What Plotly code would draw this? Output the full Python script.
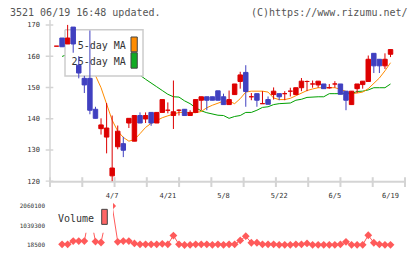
import plotly.graph_objects as go

# ---------------- data ----------------
dates = ["3/24", "3/25", "3/26", "3/27", "3/28", "3/31", "4/1", "4/2", "4/3", "4/4",
         "4/7", "4/8", "4/9", "4/10", "4/11", "4/14", "4/15", "4/16", "4/17", "4/18",
         "4/21", "4/22", "4/23", "4/24", "4/25", "4/28", "4/30", "5/1", "5/2", "5/7",
         "5/8", "5/9", "5/12", "5/13", "5/14", "5/15", "5/16", "5/19", "5/20", "5/21",
         "5/22", "5/23", "5/26", "5/27", "5/28", "5/29", "5/30", "6/2", "6/3", "6/4",
         "6/5", "6/6", "6/9", "6/10", "6/11", "6/12", "6/13", "6/16", "6/17", "6/18", "6/19"]

opens = [163.2, 165.8, 163.9, 169.3, 157.1, 152.9, 152.9, 143.0, 136.8, 134.1,
         121.7, 131.0, 132.0, 138.6, 132.8, 141.0, 139.9, 142.0, 138.6, 142.0,
         142.7, 141.0, 142.7, 143.0, 141.0, 142.0, 145.9, 147.0, 147.0, 148.9,
         147.0, 144.5, 147.7, 151.9, 154.8, 147.0, 148.0, 144.8, 146.1, 147.7,
         148.0, 148.0, 148.8, 147.7, 149.9, 151.9, 151.1, 150.8, 151.1, 149.9,
         151.1, 151.1, 148.8, 144.5, 149.6, 150.9, 151.9, 160.9, 159.0, 156.9, 160.6]

closes = [163.2, 163.0, 165.8, 163.9, 154.6, 150.8, 142.7, 140.1, 138.0, 137.0,
          124.2, 136.0, 129.9, 140.1, 141.0, 138.6, 141.0, 138.6, 142.0, 146.1,
          142.7, 142.2, 142.7, 141.0, 142.0, 146.1, 147.0, 145.9, 145.9, 145.9,
          144.5, 146.1, 151.1, 154.0, 148.7, 147.0, 145.9, 144.8, 144.6, 148.8,
          147.0, 148.0, 148.8, 149.9, 152.0, 151.9, 151.1, 152.0, 149.6, 149.9,
          151.1, 147.8, 145.9, 148.8, 151.1, 152.0, 159.0, 156.9, 156.9, 159.0, 162.1]

highs = [163.2, 165.8, 170.0, 169.3, 160.0, 153.7, 168.2, 143.8, 140.1, 145.0,
         141.0, 137.8, 134.2, 140.1, 141.0, 142.0, 142.0, 142.0, 142.0, 146.1,
         145.2, 152.2, 143.0, 143.0, 142.7, 146.1, 147.0, 147.0, 147.0, 148.9,
         148.0, 149.0, 151.1, 155.0, 157.1, 148.2, 148.0, 148.8, 147.1, 150.0,
         148.0, 148.8, 149.9, 149.9, 153.0, 152.2, 152.2, 152.0, 151.1, 151.1,
         152.0, 151.1, 148.8, 148.8, 151.1, 152.0, 160.2, 160.9, 159.0, 160.9, 162.1]

lows = [163.2, 163.0, 163.9, 161.1, 152.9, 148.2, 141.4, 140.1, 134.9, 128.9,
        120.0, 130.2, 127.7, 137.0, 132.8, 138.6, 138.6, 137.7, 138.6, 142.0,
        141.7, 136.7, 141.0, 141.0, 141.0, 142.0, 142.7, 142.7, 145.9, 145.9,
        144.5, 144.5, 147.7, 149.6, 143.8, 145.9, 143.8, 144.8, 144.6, 146.1,
        145.9, 145.9, 147.1, 147.7, 148.8, 148.8, 149.9, 149.9, 149.6, 149.6,
        149.9, 147.8, 142.7, 144.5, 148.2, 149.6, 151.9, 154.6, 154.6, 155.9, 159.7]

ma5 = [None, None, 164.6, 164.3, 163.0, 160.5, 156.5, 153.8, 149.9, 145.0,
       139.5, 136.0, 134.0, 132.8, 133.3, 135.2, 137.2, 138.5, 139.5, 140.3,
       140.9, 141.4, 142.0, 142.0, 141.9, 141.9, 142.3, 143.5, 144.3, 145.0,
       145.6, 145.6, 144.8, 146.4, 148.5, 148.8, 148.8, 148.8, 148.5, 146.6,
       146.1, 146.1, 146.5, 147.3, 148.2, 149.0, 149.5, 149.9, 149.9, 149.9,
       149.9, 149.4, 148.6, 148.0, 148.2, 148.5, 149.6, 151.2, 153.0, 155.3, 157.9]

ma25 = [None, 159.9, 160.6, 160.9, 160.8, 160.5, 160.0, 159.4, 158.7, 158.0,
        157.2, 156.4, 155.6, 154.9, 154.3, 153.9, 152.6, 151.3, 150.2, 149.0,
        147.8, 147.0, 146.9, 145.7, 144.8, 143.5, 142.5, 141.9, 141.4, 141.1,
        141.0, 140.1, 140.7, 141.0, 142.0, 142.0, 142.7, 143.6, 143.8, 144.5,
        144.8, 144.8, 145.0, 145.9, 146.2, 146.8, 147.0, 147.0, 147.0, 148.0,
        148.0, 148.0, 148.0, 148.0, 148.7, 148.8, 149.2, 149.9, 149.9, 149.9, 151.1]

volume = [None, 54000, 54000, 222000, 222000, 222000, 1700000, 200000, 150000, 1500000,
          2060100, 187000, 222000, 222000, 100000, 54000, 54000, 54000, 54000, 80000,
          54000, 513000, 54000, 18500, 30000, 54000, 54000, 54000, 30000, 54000,
          30000, 54000, 54000, 256000, 478000, 136000, 136000, 54000, 54000, 54000,
          30000, 30000, 30000, 54000, 54000, 100000, 30000, 30000, 30000, 30000,
          30000, 54000, 187000, 30000, 30000, 30000, 529000, 136000, 54000, 30000, 30000]

price_ticks = [120, 130, 140, 150, 160, 170]
date_ticks = ["4/7", "4/21", "5/8", "5/22", "6/5", "6/19"]
vol_ticks = [18500, 1039300, 2060100]

# ---------------- styling ----------------
UP = "#dd0000"
DOWN = "#4040c0"
ORANGE = "#ff8c00"
GREEN = "#00a000"
VOLC = "#ff5a5a"
AXC = "#d4d4d4"
FONT = "DejaVu Sans Mono"

n = len(dates)
HW = 0.4

def bodies(idx):
    xs, ys = [], []
    for i in idx:
        o, c = opens[i], closes[i]
        xs += [i - HW, i + HW, i + HW, i - HW, i - HW, None]
        ys += [o, o, c, c, o, None]
    return xs, ys

def wicks(idx):
    xs, ys = [], []
    for i in idx:
        xs += [i, i, None]
        ys += [highs[i], lows[i], None]
    return xs, ys

up = [i for i in range(n) if closes[i] >= opens[i]]
dn = [i for i in range(n) if closes[i] < opens[i]]
xi = list(range(n))

fig = go.Figure()

# moving averages (drawn first: hidden under legend box)
fig.add_trace(go.Scatter(x=xi, y=ma25, mode="lines", line=dict(color=GREEN, width=1),
                         xaxis="x", yaxis="y", hoverinfo="skip"))
fig.add_trace(go.Scatter(x=xi, y=ma5, mode="lines", line=dict(color=ORANGE, width=1),
                         xaxis="x", yaxis="y", hoverinfo="skip"))

# legend box (between MAs and candles)
bx0, bx1, by0, by1 = 1.527, 15.54, 153.65, 168.43
fig.add_trace(go.Scatter(x=[bx0, bx1, bx1, bx0, bx0], y=[by1, by1, by0, by0, by1],
                         mode="lines", fill="toself", fillcolor="white",
                         line=dict(color="#cccccc", width=1.5),
                         xaxis="x", yaxis="y", hoverinfo="skip"))
fig.add_trace(go.Scatter(x=[12.45, 12.45], y=[163.2, 158.0], mode="text",
                         text=["5-day MA", "25-day MA"], textposition="middle left",
                         textfont=dict(family=FONT, size=10, color="#333333"),
                         xaxis="x", yaxis="y", hoverinfo="skip"))

# candles
for idx, col in ((up, UP), (dn, DOWN)):
    wx, wy = wicks(idx)
    fig.add_trace(go.Scatter(x=wx, y=wy, mode="lines", line=dict(color=col, width=1),
                             xaxis="x", yaxis="y", hoverinfo="skip"))
    bxs, bys = bodies(idx)
    fig.add_trace(go.Scatter(x=bxs, y=bys, mode="lines", fill="toself", fillcolor=col,
                             line=dict(color=col, width=1),
                             xaxis="x", yaxis="y", hoverinfo="skip"))

# volume
fig.add_trace(go.Scatter(x=xi, y=volume, mode="lines+markers",
                         line=dict(color=VOLC, width=1),
                         marker=dict(symbol="diamond", size=6, color=VOLC),
                         cliponaxis=False, xaxis="x2", yaxis="y2", hoverinfo="skip"))

# ---------------- layout ----------------
W, H = 420, 259
L, R, T, B = 50, 15, 20, 10
PH = H - T - B  # 229
PW = W - L - R  # 355

def py(p):  # pixel y -> paper
    return (H - B - p) / PH

def px(p):  # pixel x -> paper
    return (p - L) / PW

xr = [-1.168, 62.6]
main_dom = [py(184.5), 1]
vol_dom = [0, py(209.3)]

shapes = []
shapes.append(dict(type="line", xref="paper", yref="paper", x0=0, x1=0, y0=py(20), y1=py(190),
                   line=dict(color=AXC, width=1.5), layer="below"))
shapes.append(dict(type="line", xref="paper", yref="paper", x0=0, x1=1, y0=py(184.5), y1=py(184.5),
                   line=dict(color=AXC, width=2), layer="below"))
for k in range(12):
    shapes.append(dict(type="line", xref="paper", yref="paper", x0=k / 11, x1=k / 11,
                       y0=py(180), y1=py(190), line=dict(color=AXC, width=2), layer="below"))
for v in price_ticks:
    shapes.append(dict(type="line", xref="paper", yref="y", x0=px(45.7), x1=px(53.3), y0=v, y1=v,
                       line=dict(color=AXC, width=1.5), layer="below"))
shapes.append(dict(type="rect", xref="x", yref="y", x0=13.38, x1=14.51, y0=161.41, y1=166.13,
                   fillcolor=ORANGE, line=dict(color="#444444", width=1), layer="above"))
shapes.append(dict(type="rect", xref="x", yref="y", x0=13.38, x1=14.51, y0=156.16, y1=161.10,
                   fillcolor="#11aa22", line=dict(color="#444444", width=1), layer="above"))
shapes.append(dict(type="rect", xref="paper", yref="paper", x0=px(55), x1=px(113), y0=py(236.5), y1=py(205),
                   fillcolor="white", line=dict(width=0), layer="above"))
shapes.append(dict(type="rect", xref="paper", yref="paper", x0=px(101.7), x1=px(107.3), y0=py(228), y1=py(212.7),
                   fillcolor="#ff6666", line=dict(color="#444444", width=1), layer="above"))

annotations = [
    dict(text="3521 06/19 16:48 updated.", xref="paper", yref="paper", x=px(8), y=py(12),
         xanchor="left", yanchor="middle", showarrow=False,
         font=dict(family=FONT, size=10, color="#555555")),
    dict(text="(C)https://www.rizumu.net/", xref="paper", yref="paper", x=px(410), y=py(12),
         xanchor="right", yanchor="middle", showarrow=False,
         font=dict(family=FONT, size=10, color="#555555")),
    dict(text="Volume", xref="paper", yref="paper", x=px(95.5), y=py(222),
         xanchor="right", yanchor="middle", showarrow=False,
         font=dict(family=FONT, size=10, color="#333333")),
]

fig.update_layout(
    width=W, height=H,
    margin=dict(l=L, r=R, t=T, b=B, pad=0),
    paper_bgcolor="white", plot_bgcolor="white",
    showlegend=False,
    xaxis=dict(domain=[0, 1], anchor="y", range=xr, showgrid=False, zeroline=False, showline=False,
               tickmode="array", tickvals=[dates.index(d) for d in date_ticks], ticktext=date_ticks,
               ticks="outside", ticklen=7, tickcolor="rgba(0,0,0,0)",
               tickfont=dict(family=FONT, size=7, color="#333333")),
    yaxis=dict(domain=main_dom, anchor="x", range=[119.85, 171.57], showgrid=False, zeroline=False,
               showline=False, tickmode="array", tickvals=price_ticks,
               ticktext=[str(v) for v in price_ticks], ticks="", ticklabelstandoff=9,
               tickfont=dict(family=FONT, size=7, color="#333333")),
    xaxis2=dict(domain=[0, 1], anchor="y2", range=xr, showgrid=False, zeroline=False, showline=False,
                showticklabels=False, ticks=""),
    yaxis2=dict(domain=vol_dom, anchor="x2", range=[18500, 2060100], showgrid=False, zeroline=False,
                showline=False, tickmode="array", tickvals=vol_ticks,
                ticktext=[str(v) for v in vol_ticks], ticks="", ticklabelstandoff=4,
                tickfont=dict(family=FONT, size=6, color="#333333")),
    shapes=shapes,
    annotations=annotations,
)

fig.write_html("out.html", config={"displayModeBar": False},
               post_script="document.body.style.margin='0';document.body.style.overflow='hidden';")
